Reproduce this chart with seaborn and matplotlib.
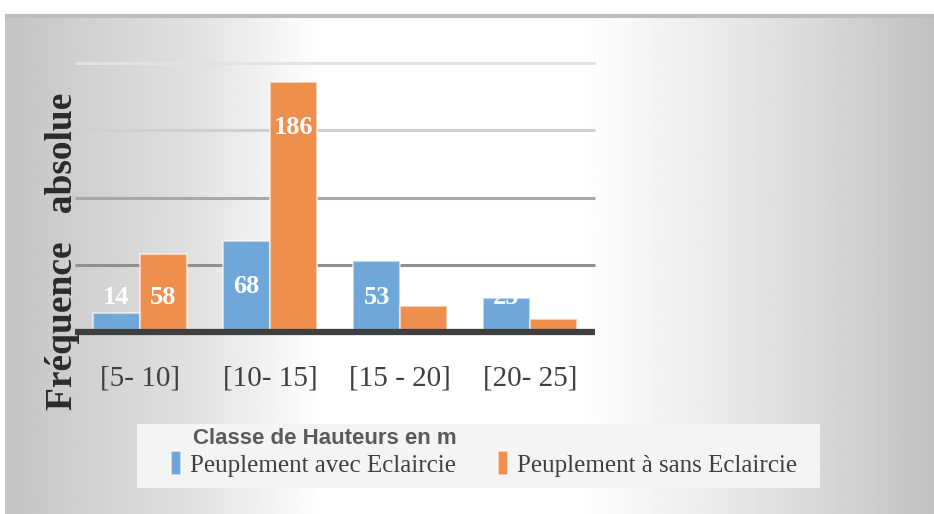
import numpy as np
import pandas as pd
import matplotlib
matplotlib.use("Agg")
import matplotlib.pyplot as plt
import seaborn as sns
from matplotlib.patches import Rectangle

# data
classes = ["[5- 10]", "[10- 15]", "[15 - 20]", "[20- 25]"]
avec = [14, 68, 53, 25]
sans = [58, 186, 19, 10]
series = ["Peuplement avec Eclaircie", "Peuplement à sans Eclaircie"]
colors = ["#6fa7da", "#ef8f4e"]

df = pd.DataFrame({"classe": classes * 2,
                   "freq": avec + sans,
                   "serie": [series[0]] * len(avec) + [series[1]] * len(sans)})

sns.set_theme(style="white")
plt.rcParams["font.family"] = ["Liberation Serif", "DejaVu Serif"]

W, H = 934, 514
fig = plt.figure(figsize=(W / 100, H / 100), dpi=100)
fig.patch.set_facecolor("white")

# grey - white - grey background panel
bg = fig.add_axes([5 / W, 0, 1 - 5 / W, 1 - 16 / H], zorder=-10)
xs = np.linspace(0, 1, 500)
shade = np.interp(xs, [0, 0.2, 0.34, 0.62, 0.8, 1], [0.77, 0.88, 1, 1, 0.9, 0.76])
bg.imshow(np.tile(shade, (10, 1)), cmap="gray", vmin=0, vmax=1,
          aspect="auto", extent=[0, 1, 0, 1])
bg.axis("off")
fig.add_artist(Rectangle((5 / W, 1 - 18 / H), 1, 4 / H, transform=fig.transFigure,
                         facecolor="#bdbdbd", edgecolor="none", zorder=-5))

# main plot
ax = fig.add_axes([75 / W, 1 - 332 / H, 520 / W, 269 / H], zorder=1)
ax.patch.set_alpha(0)

grid_cols = {50: "#8f8f8f", 100: "#a8a8a8", 150: "#cfcfcf", 200: "#e2e2e2"}
for yv, c in grid_cols.items():
    ax.axhline(yv, color=c, lw=2.2, zorder=0, clip_on=False, solid_capstyle="butt")

sns.barplot(data=df, x="classe", y="freq", hue="serie", palette=colors,
            width=0.72, gap=0, edgecolor=(1, 1, 1, 0.55), linewidth=1.5,
            saturation=1, ax=ax, zorder=2)
ax.axhline(0, color="#3f3f3f", lw=4.5, zorder=3, clip_on=False, solid_capstyle="butt")

# value labels (white, near top of bars)
for cont in ax.containers:
    for bar in cont:
        h = bar.get_height()
        ax.text(bar.get_x() + bar.get_width() / 2, max(h - 34, 26), f"{h:.0f}",
                ha="center", va="center", color="white", fontsize=19,
                fontweight="bold", zorder=4)

ax.set_ylim(0, 200)
ax.set_xlim(-0.5, 3.5)
ax.set_yticks([])
ax.set_xlabel("")
ax.set_ylabel("")
ax.tick_params(axis="x", length=0, pad=24, labelsize=21, labelcolor="#404040")
sns.despine(ax=ax, left=True, bottom=True)

fig.text(63 / W, 1 - 251 / H, "Fréquence   absolue", rotation=90,
         ha="center", va="center", fontsize=27, fontweight="bold", color="#2b2b2b")

# legend box
fig.add_artist(Rectangle((137 / W, 1 - 488 / H), 683 / W, 64 / H,
                         transform=fig.transFigure, facecolor="#f4f4f4",
                         edgecolor="none", zorder=2))
fig.text(325 / W, 1 - 439 / H, "Classe de Hauteurs en m",
         family=["Liberation Sans", "DejaVu Sans"], fontweight="bold",
         fontsize=16, color="#5a5a5a", ha="center", va="center", zorder=3)

leg = ax.get_legend()
handles = leg.legend_handles
labels = [t.get_text() for t in leg.get_texts()]
leg.remove()
lg = fig.legend(handles, labels, loc="center", bbox_to_anchor=(484 / W, 1 - 464 / H),
                ncol=2, frameon=False, fontsize=18, handlelength=0.4,
                handleheight=1.1, handletextpad=0.35, columnspacing=1.7,
                labelcolor="#404040")
lg.set_zorder(5)

fig.savefig("out.png", dpi=100)
